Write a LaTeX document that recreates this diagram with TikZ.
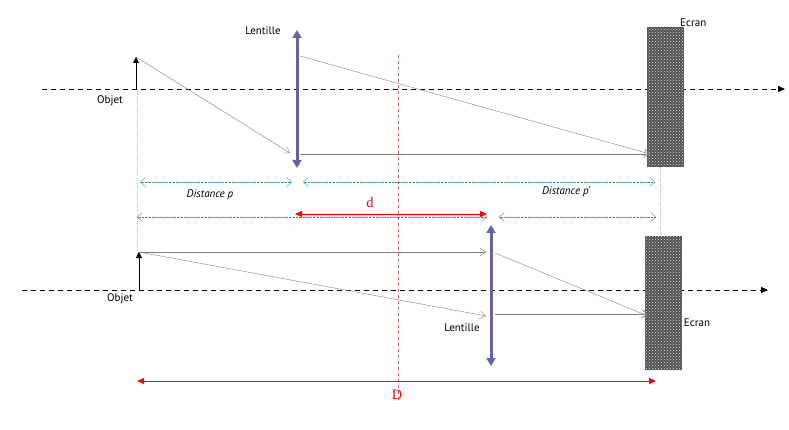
\documentclass[tikz,border=0pt]{standalone}
\usepackage{fontspec}
\setmainfont{PT Sans}
\newfontfamily\serf{Liberation Serif}
\usetikzlibrary{arrows.meta,patterns}
\definecolor{lens}{RGB}{100,100,160}
\definecolor{teal2}{RGB}{60,140,160}
\definecolor{ray}{RGB}{128,128,128}
\tikzset{
 axis/.style={dash pattern=on 5pt off 4pt,thick,-{Triangle[length=7pt,width=6pt]}},
 lensline/.style={lens,line width=3pt,{Triangle[length=8pt,width=9pt]}-{Triangle[length=8pt,width=9pt]}},
 rayl/.style={ray,thin,-{Straight Barb[length=6pt,width=8pt]}},
 dist/.style={teal2,densely dotted,{Straight Barb[length=5pt,width=9pt]}-{Straight Barb[length=5pt,width=9pt]}},
 redarr/.style={red,thick,{Triangle[length=7pt,width=6pt]}-{Triangle[length=7pt,width=6pt]}},
 screen/.style={fill={rgb,255:red,80;green,80;blue,80},postaction={pattern=crosshatch dots,pattern color=white!80!gray}},
 lbl/.style={font=\fontsize{11}{13}\selectfont},
 ilbl/.style={font=\fontsize{11}{13}\selectfont\itshape},
 obj/.style={thick,-{Triangle[length=6pt,width=6pt]}}
}
\begin{document}
\begin{tikzpicture}[x=1pt,y=-1pt]
\useasboundingbox (0,0) rectangle (789,430);
% top
\coordinate (a1s) at (42,89); \coordinate (a1e) at (785,89);
\draw[axis] (a1s) -- (a1e);
\draw[gray!60,dotted] (137,89) -- (137,250);
\draw[gray!60,dotted] (660,167) -- (660,236);
\coordinate (o1b) at (136,89); \coordinate (o1t) at (136,57);
\draw[obj] (o1b) -- (o1t);
\node[lbl] (objet1) at (110,101) {Objet};
\node[screen,minimum width=37pt,minimum height=140pt,inner sep=0] (ecr1) at (665.5,97) {};
\node[lbl,anchor=north west,inner sep=0] (ecranl1) at (680,19) {Ecran};
\coordinate (L1t) at (297,30); \coordinate (L1b) at (297,168);
\draw[lensline] (L1b) -- (L1t);
\node[lbl] (lent1) at (263,31) {Lentille};
\coordinate (r1a) at (290,153); \coordinate (r1b) at (300,56); \coordinate (r1c) at (300,154); \coordinate (scr1) at (650,154);
\draw[rayl] (o1t) -- (r1a);
\draw[rayl] (r1b) -- (scr1);
\draw[rayl] (r1c) -- (scr1);
\coordinate (rd1) at (398,55); \coordinate (rd2) at (398,400);
\draw[red!70,dashed] (rd1) -- (rd2);
% distances
\coordinate (p1) at (140,182); \coordinate (p2) at (292,182);
\coordinate (p3) at (303,182); \coordinate (p4) at (655,182);
\draw[dist] (p1) -- (p2); \draw[dist] (p3) -- (p4);
\node[ilbl] (dp) at (210,195) {Distance p};
\node[ilbl] (dpp) at (566,192) {Distance p'};
\coordinate (q1) at (137,217); \coordinate (q2) at (487,217);
\coordinate (q3) at (499,217); \coordinate (q4) at (656,217);
\draw[dist] (q1) -- (q2); \draw[dist] (q3) -- (q4);
\coordinate (d1) at (295,214); \coordinate (d2) at (487,214);
\draw[redarr] (d1) -- (d2);
\node[red,font=\serf\Large] (dl) at (370,203) {d};
% bottom
\coordinate (a2s) at (22,290); \coordinate (a2e) at (768,290);
\draw[axis] (a2s) -- (a2e);
\coordinate (o2b) at (139,290); \coordinate (o2t) at (139,252);
\draw[obj] (o2b) -- (o2t);
\node[lbl] (objet2) at (120,299) {Objet};
\node[screen,minimum width=37pt,minimum height=134pt,inner sep=0] (ecr2) at (663.5,303) {};
\node[lbl] (ecranl2) at (697,323) {Ecran};
\coordinate (L2t) at (491,225); \coordinate (L2b) at (491,366);
\draw[lensline] (L2b) -- (L2t);
\node[lbl] (lent2) at (462,328) {Lentille};
\coordinate (s1) at (486,252); \coordinate (s2) at (486,316);
\coordinate (s3) at (495,253); \coordinate (s4) at (495,314);
\coordinate (e1) at (648,316); \coordinate (e2) at (648,314);
\draw[rayl] (o2t) -- (s1);
\draw[rayl] (o2t) -- (s2);
\draw[rayl] (s3) -- (e1);
\draw[rayl] (s4) -- (e2);
\coordinate (D1) at (137,381); \coordinate (D2) at (656,381);
\draw[redarr] (D1) -- (D2);
\node[red,font=\serf\Large] (Dl) at (397,395) {D};
\end{tikzpicture}
\end{document}
